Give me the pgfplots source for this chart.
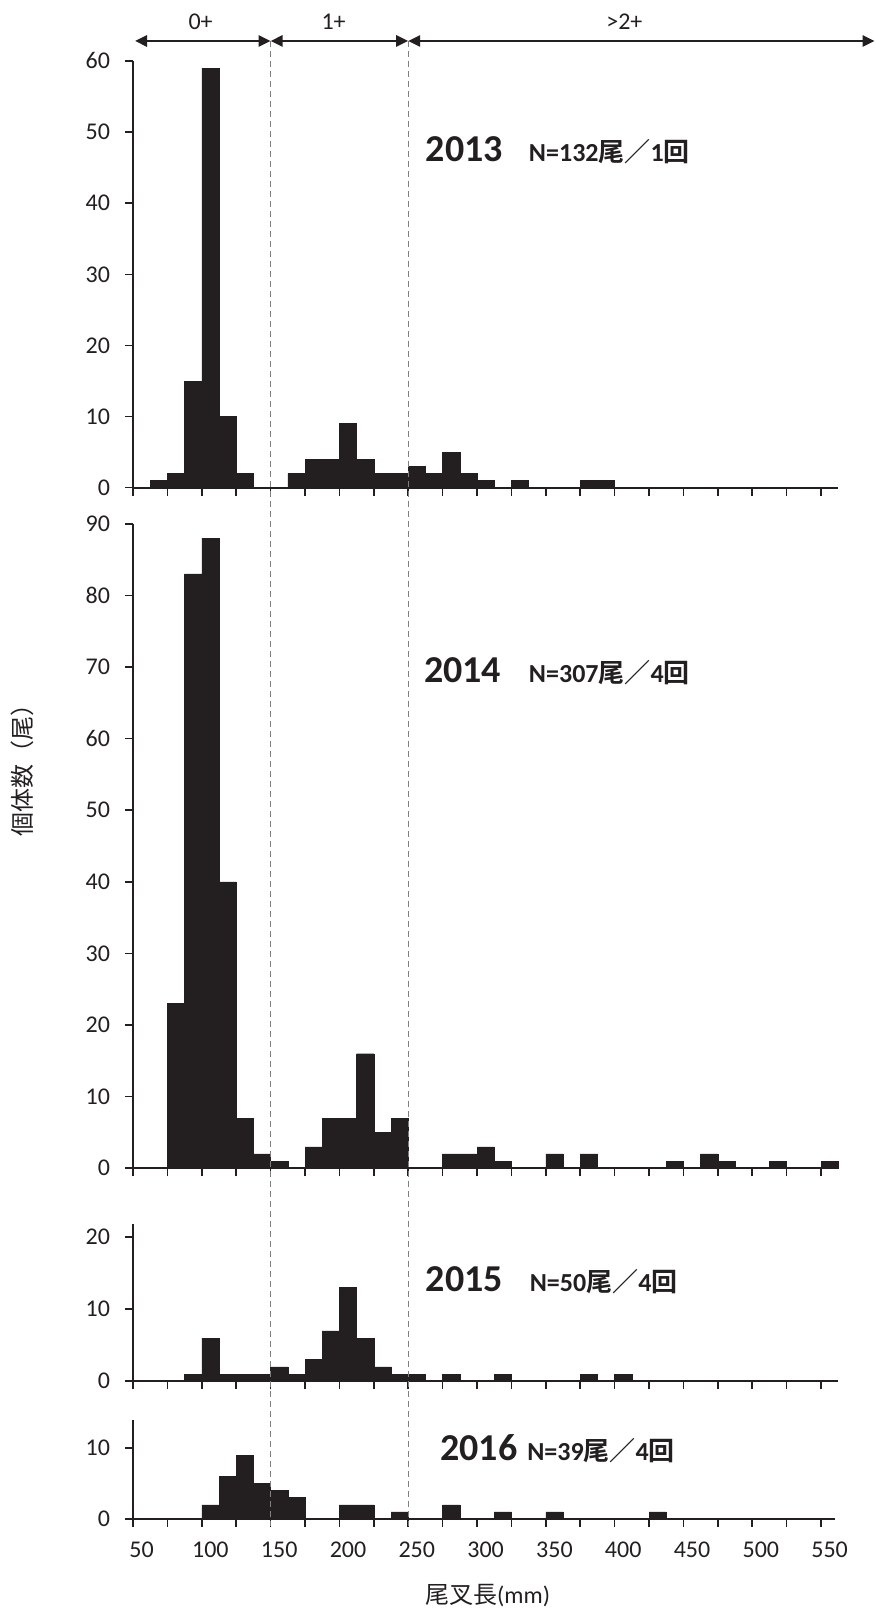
\documentclass[border=0pt]{standalone}
\usepackage{fontspec}
\setmainfont{Carlito}
\newfontfamily\cjk{Noto Sans CJK JP}[BoldFont={Noto Sans CJK JP Bold}]
\usepackage{pgfplots}
\usepackage{pgfplotstable}
\pgfplotsset{compat=1.18}
\usetikzlibrary{arrows.meta}
\definecolor{barblk}{HTML}{231F20}
\definecolor{dashgray}{HTML}{808080}

% bins: index k = 0..40 (label 50 at bin 0, 550 at bin 40); x = bin centre
\pgfplotstableread{
x y
1.5 1
2.5 2
3.5 15
4.5 59
5.5 10
6.5 2
9.5 2
10.5 4
11.5 4
12.5 9
13.5 4
14.5 2
15.5 2
16.5 3
17.5 2
18.5 5
19.5 2
20.5 1
22.5 1
26.5 1
27.5 1
}\dataA
\pgfplotstableread{
x y
2.5 23
3.5 83
4.5 88
5.5 40
6.5 7
7.5 2
8.5 1
10.5 3
11.5 7
12.5 7
13.5 16
14.5 5
15.5 7
18.5 2
19.5 2
20.5 3
21.5 1
24.5 2
26.5 2
31.5 1
33.5 2
34.5 1
37.5 1
40.5 1
}\dataB
\pgfplotstableread{
x y
3.5 1
4.5 6
5.5 1
6.5 1
7.5 1
8.5 2
9.5 1
10.5 3
11.5 7
12.5 13
13.5 6
14.5 2
15.5 1
16.5 1
18.5 1
21.5 1
26.5 1
28.5 1
}\dataC
\pgfplotstableread{
x y
4.5 2
5.5 6
6.5 9
7.5 5
8.5 4
9.5 3
12.5 2
13.5 2
15.5 1
18.5 2
21.5 1
24.5 1
30.5 1
}\dataD

\pgfplotsset{
  histo/.style={
    scale only axis, width=352.6pt, xmin=0, xmax=41, ymin=0,
    axis x line*=bottom, axis y line*=left,
    axis line style={barblk, line width=0.9pt},
    tick align=outside, major tick length=4pt,
    every tick/.style={barblk, line width=0.8pt},
    xtick={0,2,...,40}, xticklabels={},
    yticklabel style={font=\fontsize{12}{14}\selectfont, text=barblk, xshift=-4pt},
    /pgf/number format/assume math mode=true,
    ybar, bar width=1, bar shift=0pt,
    clip=false,
  },
}
\tikzset{
  bars/.style={fill=barblk, draw=barblk, line width=0.2pt},
  yr/.style={anchor=base west, inner sep=0pt, text=barblk, font=\fontsize{19}{22}\selectfont\bfseries},
  nn/.style={anchor=base west, inner sep=0pt, text=barblk, font=\fontsize{13}{16}\selectfont\bfseries},
}

\begin{document}
\begin{tikzpicture}
\useasboundingbox (0,0) rectangle (437.5pt,805pt);

% 2013
\begin{axis}[histo, at={(66.5pt,561.15pt)}, anchor=south west,
  height=213.35pt, ymax=60, ytick={0,10,...,60}]
  \addplot[bars] table[x=x,y=y] {\dataA};
  \node[yr] at (axis cs:17.0,45.8) {2013};
  \node[nn] at (axis cs:23.0,45.8) {N=132{\cjk 尾／}1{\cjk 回}};
\end{axis}

% 2014
\begin{axis}[histo, at={(66.5pt,220.85pt)}, anchor=south west,
  height=322.25pt, ymax=90, ytick={0,10,...,90}]
  \addplot[bars] table[x=x,y=y] {\dataB};
  \node[yr] at (axis cs:16.9,67.9) {2014};
  \node[nn] at (axis cs:23.0,67.9) {N=307{\cjk 尾／}4{\cjk 回}};
\end{axis}

% 2015
\begin{axis}[histo, at={(66.5pt,114.35pt)}, anchor=south west,
  height=78.65pt, ymax=21.8, ytick={0,10,20}]
  \addplot[bars] table[x=x,y=y] {\dataC};
  \node[yr] at (axis cs:17.0,12.5) {2015};
  \node[nn] at (axis cs:23.05,12.5) {N=50{\cjk 尾／}4{\cjk 回}};
\end{axis}

% 2016
\begin{axis}[histo, at={(66.5pt,45.5pt)}, anchor=south west,
  width=350.9pt, xmax=40.8,
  height=49.5pt, ymax=13.94, ytick={0,10},
  extra x ticks={0.5,4.5,8.5,12.5,16.5,20.5,24.5,28.5,32.5,36.5,40.5},
  extra x tick labels={50,100,150,200,250,300,350,400,450,500,550},
  extra x tick style={major tick length=0pt,
    xticklabel style={anchor=center, yshift=-15.5pt, font=\fontsize{12}{14}\selectfont, text=barblk}},
  ]
  \addplot[bars] table[x=x,y=y] {\dataD};
  \node[yr] at (axis cs:17.85,8.3) {2016};
  \node[nn] at (axis cs:22.9,8.3) {N=39{\cjk 尾／}4{\cjk 回}};
\end{axis}

% age-class separators and arrows
\draw[dashgray, line width=0.6pt, dash pattern=on 3pt off 2pt] (135.3pt,784.5pt) -- (135.3pt,42pt);
\draw[dashgray, line width=0.6pt, dash pattern=on 3pt off 2pt] (204.1pt,784.5pt) -- (204.1pt,42pt);
\draw[barblk, line width=1.35pt, {Triangle[length=6pt,width=5.5pt]}-{Triangle[length=6pt,width=5.5pt]}] (67.5pt,784.5pt) -- (135.3pt,784.5pt);
\draw[barblk, line width=1.35pt, {Triangle[length=6pt,width=5.5pt]}-{Triangle[length=6pt,width=5.5pt]}] (135.3pt,784.5pt) -- (204.1pt,784.5pt);
\draw[barblk, line width=1.35pt, {Triangle[length=6pt,width=5.5pt]}-{Triangle[length=6pt,width=5.5pt]}] (204.1pt,784.5pt) -- (437.3pt,784.5pt);
\node[text=barblk, font=\fontsize{12}{14}\selectfont] at (100.3pt,794.15pt) {0+};
\node[text=barblk, font=\fontsize{12}{14}\selectfont] at (166.8pt,794.15pt) {1+};
\node[text=barblk, font=\fontsize{12}{14}\selectfont] at (312.2pt,794.15pt) {>2+};

% axis titles
\node[text=barblk, font=\fontsize{12}{14}\selectfont, rotate=90] at (11.3pt,422.5pt) {{\cjk 個体数（尾）}};
\node[text=barblk, font=\fontsize{12}{14}\selectfont] at (243.8pt,7pt) {{\cjk 尾叉長}(mm)};
\end{tikzpicture}
\end{document}
